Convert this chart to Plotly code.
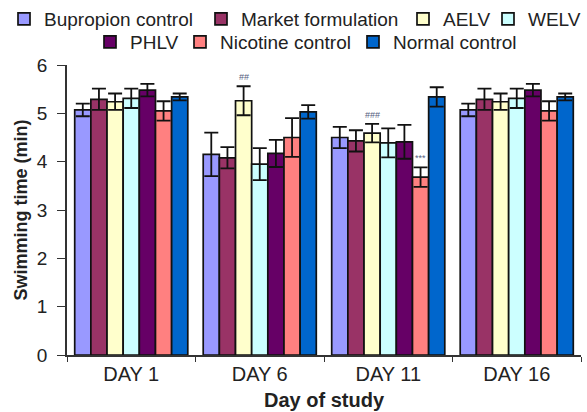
import plotly.graph_objects as go

days = ["DAY 1", "DAY 6", "DAY 11", "DAY 16"]
groups = ["Bupropion control", "Market formulation", "AELV", "WELV",
          "PHLV", "Nicotine control", "Normal control"]
colors = ["#9999FF", "#993366", "#FFFFCC", "#CCFFFF", "#660066", "#FF8080", "#0066CC"]

# mean swimming time per group, per day
means = {
    "Bupropion control":  [5.07, 4.15, 4.50, 5.07],
    "Market formulation": [5.29, 4.08, 4.43, 5.29],
    "AELV":               [5.24, 5.26, 4.59, 5.24],
    "WELV":               [5.31, 3.95, 4.39, 5.31],
    "PHLV":               [5.48, 4.17, 4.41, 5.48],
    "Nicotine control":   [5.05, 4.50, 3.68, 5.05],
    "Normal control":     [5.34, 5.03, 5.34, 5.34],
}
errors = {
    "Bupropion control":  [0.13, 0.45, 0.22, 0.13],
    "Market formulation": [0.22, 0.22, 0.22, 0.22],
    "AELV":               [0.17, 0.30, 0.19, 0.17],
    "WELV":               [0.20, 0.33, 0.30, 0.20],
    "PHLV":               [0.13, 0.28, 0.35, 0.13],
    "Nicotine control":   [0.20, 0.40, 0.20, 0.20],
    "Normal control":     [0.07, 0.14, 0.20, 0.07],
}
# significance marks: (day, group, text)
marks = [("DAY 6", "AELV", "##"), ("DAY 11", "AELV", "###"), ("DAY 11", "Nicotine control", "***")]

# legend entry placement (pixel offset of each entry, row)
legend_slots = [(18, 0), (215, 0), (417, 0), (502, 0), (104, 1), (194, 1), (367, 1)]
W, H = 587, 412
row_y = [19, 42]

fig = go.Figure()
layout_legends = {}
for i, (g, c) in enumerate(zip(groups, colors)):
    lname = "legend" if i == 0 else f"legend{i + 1}"
    fig.add_trace(go.Bar(
        x=days, y=means[g], name=g,
        marker=dict(color=c, line=dict(color="#111111", width=1.7)),
        error_y=dict(type="data", array=errors[g], visible=True,
                     color="#111111", thickness=1.8, width=7),
        legend=lname, showlegend=True,
        offsetgroup=str(i),
    ))
    px, row = legend_slots[i]
    layout_legends[lname] = dict(
        orientation="h", xanchor="left", yanchor="middle",
        x=(px - 14) / W, y=1 - row_y[row] / H,
        xref="container", yref="container",
        font=dict(size=19, color="#222222"),
        bgcolor="rgba(0,0,0,0)", borderwidth=0, itemwidth=30,
    )

nG = len(groups)
bargap = 0.12
w = (1 - bargap) / nG
for day, g, txt in marks:
    di = days.index(day)
    gi = groups.index(g)
    xpos = di - (1 - bargap) / 2 + w * (gi + 0.5)
    ytop = means[g][di] + errors[g][di]
    fig.add_annotation(x=xpos, y=ytop, xref="x", yref="y", text=txt,
                       showarrow=False, yshift=9,
                       font=dict(size=9, color="#556080", family="Liberation Sans"))

fig.update_layout(
    width=W, height=H, showlegend=True,
    margin=dict(l=67, r=6, t=65, b=57, autoexpand=False),
    paper_bgcolor="white", plot_bgcolor="white",
    barmode="group", bargap=bargap, bargroupgap=0,
    font=dict(family="Liberation Sans, Arial, sans-serif", color="#222222", size=17),
    xaxis=dict(
        type="category", tickson="boundaries", ticks="outside", ticklen=5,
        tickcolor="#333333", showline=True, linecolor="#333333", linewidth=1.5,
        tickfont=dict(size=20), range=[-0.5, 3.5],
        title=dict(text="<b>Day of study</b>", font=dict(size=20), standoff=9),
    ),
    yaxis=dict(
        range=[0, 6], dtick=1, ticks="outside", ticklen=8, tickcolor="#333333",
        showline=True, linecolor="#333333", linewidth=1.5, showgrid=False,
        zeroline=False, tickfont=dict(size=19), ticklabelstandoff=6,
        title=dict(text="<b>Swimming time (min)</b>", font=dict(size=18), standoff=5),
    ),
    **layout_legends,
)

fig.write_html("out.html", config={"displayModeBar": False},
               post_script="document.body.style.margin='0';")
